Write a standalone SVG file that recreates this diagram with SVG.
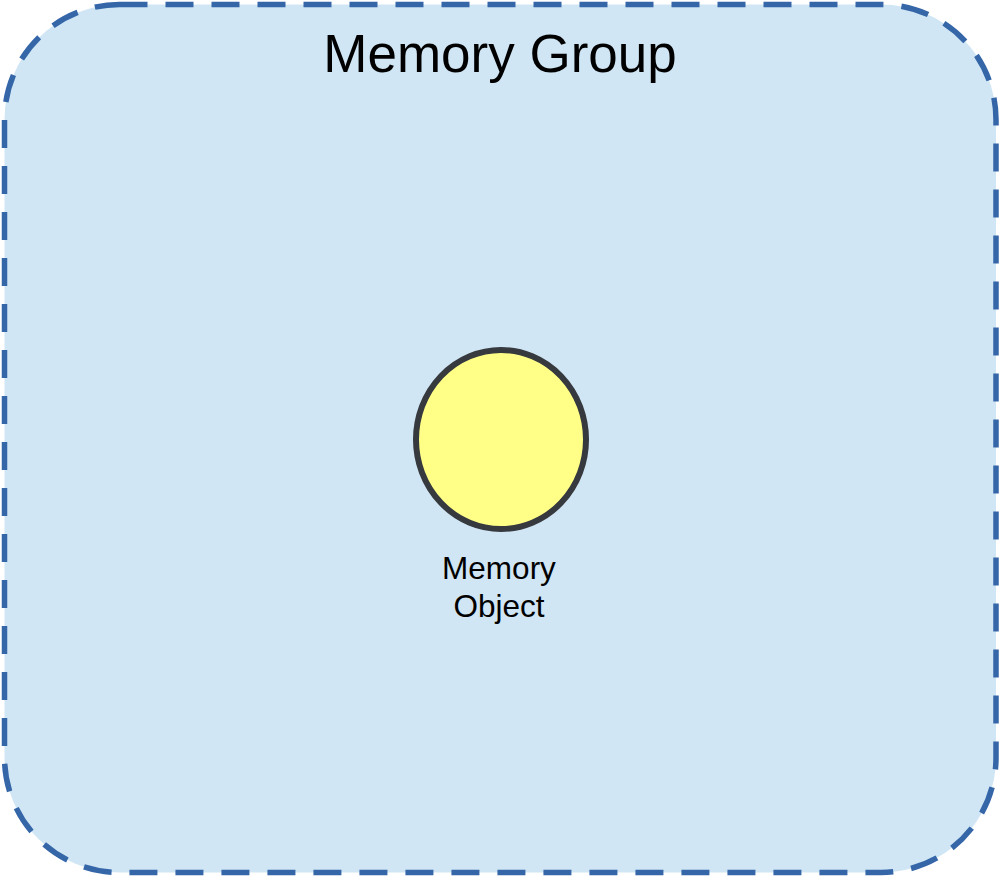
<svg xmlns="http://www.w3.org/2000/svg" width="999" height="876" viewBox="0 0 999 876">
<style>
.grp{fill:#d0e6f4;stroke:#3466a8;stroke-width:5.5;stroke-dasharray:28 18}
.obj{fill:#ffff88;stroke:#36393d;stroke-width:6}
.t{font-family:"Liberation Sans",Arial,sans-serif;fill:#000;text-anchor:middle}
</style>
<rect width="999" height="876" fill="#ffffff"/>
<g id="memory-group">
<rect class="grp" x="4.5" y="4.5" width="991.5" height="868" rx="115" ry="115"/>
<text class="t" x="500" y="72" font-size="53">Memory Group</text>
</g>
<g id="memory-object">
<ellipse class="obj" cx="501" cy="439.5" rx="85" ry="89.5"/>
<text class="t" x="499" y="578.5" font-size="31.5">Memory</text>
<text class="t" x="499" y="616.5" font-size="31.5">Object</text>
</g>
<g id="connectors"/>
</svg>
